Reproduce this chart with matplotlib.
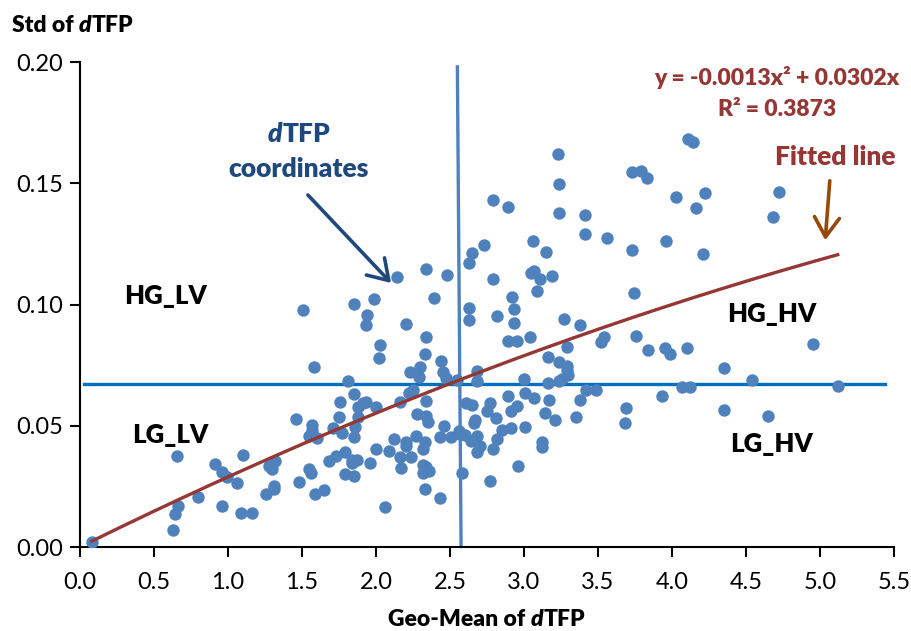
import numpy as np
import matplotlib
matplotlib.use("Agg")
import matplotlib.pyplot as plt

plt.rcParams['font.family'] = ['Lato', 'DejaVu Sans']

# geo-mean of dTFP (x) and std of dTFP (y)
geo_mean = [
    0.08, 0.655, 0.63, 0.64, 0.66, 0.80, 0.91, 0.96, 0.99, 0.96,
    1.06, 1.10, 1.09, 1.16, 1.26, 1.31, 1.31, 1.28, 1.30, 1.32,
    1.46, 1.48, 1.51, 1.58, 1.57, 1.57, 1.55, 1.60, 1.55, 1.56,
    1.59, 1.65, 1.71, 1.68, 1.73, 1.75, 1.76, 1.77, 1.79, 1.79,
    1.81, 1.85, 1.88, 1.91, 1.93, 1.88, 1.86, 1.85, 1.84, 1.87,
    1.84, 1.85, 1.85, 1.94, 1.93, 1.99, 2.03, 2.02, 2.00, 2.00,
    1.96, 2.06, 2.09, 2.12, 2.14, 2.16, 2.16, 2.17, 2.20, 2.20,
    2.20, 2.22, 2.25, 2.23, 2.24, 2.29, 2.30, 2.28, 2.27, 2.33,
    2.34, 2.34, 2.39, 2.34, 2.34, 2.35, 2.33, 2.32, 2.32, 2.34,
    2.36, 2.32, 2.33, 2.43, 2.44, 2.45, 2.47, 2.48, 2.46, 2.43,
    2.51, 2.545, 2.56, 2.58, 2.57, 2.60, 2.64, 2.68, 2.70, 2.68,
    2.66, 2.67, 2.61, 2.65, 2.68, 2.68, 2.63, 2.63, 2.63, 2.65,
    2.73, 2.79, 2.89, 2.79, 2.82, 2.92, 2.93, 2.93, 2.89, 2.95,
    3.04, 2.77, 2.75, 2.81, 2.815, 2.79, 2.77, 2.85, 2.915, 2.89,
    2.95, 2.91, 2.96, 3.00, 3.01, 3.01, 3.07, 3.14, 3.12, 3.12,
    3.17, 3.16, 3.16, 3.24, 3.29, 3.29, 3.30, 3.26, 3.24, 3.21,
    3.35, 3.38, 3.42, 3.49, 3.29, 3.27, 3.38, 3.09, 3.05, 3.07,
    3.11, 3.19, 3.06, 3.15, 3.23, 3.24, 3.24, 3.41, 3.41, 3.56,
    3.52, 3.54, 3.68, 3.69, 3.73, 3.745, 3.73, 3.79, 3.83, 3.76,
    3.84, 3.93, 3.95, 3.99, 3.96, 4.03, 4.10, 4.07, 4.12, 4.11,
    4.14, 4.16, 4.22, 4.21, 4.35, 4.35, 4.54, 4.65, 4.68, 4.72,
    4.955, 5.12,
]
std_dev = [
    0.0022, 0.0375, 0.0070, 0.0135, 0.0170, 0.0205, 0.0341, 0.0308, 0.0290, 0.0169,
    0.0263, 0.0378, 0.0139, 0.0139, 0.0217, 0.0252, 0.0238, 0.0335, 0.0320, 0.0355,
    0.0527, 0.0269, 0.0977, 0.0741, 0.0503, 0.0482, 0.0458, 0.0448, 0.0320, 0.0306,
    0.0217, 0.0235, 0.0490, 0.0355, 0.0375, 0.0535, 0.0599, 0.0469, 0.0393, 0.0301,
    0.0685, 0.0630, 0.0579, 0.0593, 0.0600, 0.0537, 0.0495, 0.0452, 0.0359, 0.0359,
    0.0345, 0.0294, 0.1002, 0.0957, 0.0915, 0.1021, 0.0833, 0.0781, 0.0579, 0.0404,
    0.0345, 0.0165, 0.0397, 0.0444, 0.1115, 0.0599, 0.0371, 0.0327, 0.0434, 0.0416,
    0.0918, 0.0634, 0.0647, 0.0720, 0.0373, 0.0702, 0.0744, 0.0547, 0.0458, 0.0795,
    0.0868, 0.1145, 0.1026, 0.0603, 0.0542, 0.0515, 0.0434, 0.0403, 0.0338, 0.0329,
    0.0315, 0.0304, 0.0238, 0.0201, 0.0767, 0.0720, 0.0697, 0.1120, 0.0501, 0.0455,
    0.0455, 0.0690, 0.0480, 0.0304, 0.0465, 0.0462, 0.0439, 0.0458, 0.0416, 0.0393,
    0.0513, 0.0524, 0.0595, 0.0584, 0.0724, 0.0683, 0.0984, 0.0935, 0.1170, 0.1211,
    0.1244, 0.1430, 0.1403, 0.1105, 0.0953, 0.1030, 0.0981, 0.0922, 0.0848, 0.0850,
    0.0865, 0.0594, 0.0562, 0.0531, 0.0445, 0.0403, 0.0273, 0.0482, 0.0489, 0.0621,
    0.0582, 0.0561, 0.0334, 0.0692, 0.0637, 0.0496, 0.0613, 0.0551, 0.0434, 0.0414,
    0.0606, 0.0678, 0.0782, 0.0764, 0.0746, 0.0730, 0.0709, 0.0692, 0.0686, 0.0525,
    0.0537, 0.0606, 0.0649, 0.0646, 0.0823, 0.0940, 0.0917, 0.1057, 0.1129, 0.1140,
    0.1104, 0.1118, 0.1262, 0.1218, 0.1621, 0.1497, 0.1376, 0.1370, 0.1290, 0.1273,
    0.0847, 0.0867, 0.0513, 0.0572, 0.1226, 0.1046, 0.1548, 0.1552, 0.1520, 0.0870,
    0.0812, 0.0624, 0.0819, 0.0796, 0.1261, 0.1445, 0.0819, 0.0659, 0.0659, 0.1681,
    0.1671, 0.1397, 0.1461, 0.1208, 0.0737, 0.0565, 0.0689, 0.0540, 0.1361, 0.1465,
    0.0837, 0.0664,
]

# quadratic trendline through origin
coef_a, coef_b = -0.0013, 0.0302
r_squared = 0.3873

# quadrant split lines
std_cut = 0.0672
mean_cut_top, mean_cut_bottom = 2.55, 2.575

x_ticks = np.arange(0, 5.51, 0.5)
y_ticks = np.arange(0, 0.201, 0.05)

dot_blue = '#4F81BD'
line_blue = '#0070C0'
fit_red = '#953735'
navy = '#1F497D'
brown = '#984807'
heavy = 'heavy'

fig = plt.figure(figsize=(9.11, 6.31), dpi=100)
ax = fig.add_axes([0.0878, 0.1331, 0.8935, 0.7686])

ax.plot([mean_cut_top, mean_cut_bottom], [0.198, 0.0], color=dot_blue, lw=2.4, zorder=2)
ax.plot([0.03, 5.44], [std_cut, std_cut], color=line_blue, lw=2.4, zorder=2)
ax.scatter(geo_mean, std_dev, s=80, color=dot_blue, linewidths=0, zorder=3)

xf = np.linspace(min(geo_mean), max(geo_mean), 200)
ax.plot(xf, coef_a * xf**2 + coef_b * xf, color=fit_red, lw=2.4, zorder=4)

ax.set_xlim(0, 5.5)
ax.set_ylim(0, 0.2)
ax.set_xticks(x_ticks)
ax.set_yticks(y_ticks)
ax.set_xticklabels([f'{v:.1f}' for v in x_ticks])
ax.set_yticklabels([f'{v:.2f}' for v in y_ticks])
ax.tick_params(direction='out', length=7, width=1.5, labelsize=17, pad=5)
ax.tick_params(axis='x', pad=11)
ax.spines['top'].set_visible(False)
ax.spines['right'].set_visible(False)
for s in ['left', 'bottom']:
    ax.spines[s].set_linewidth(1.5)


def rich_text(parts, x, y, trans, ha_first='left', **kw):
    # chain text pieces one after the other
    t = fig.text(x, y, parts[0][0], transform=trans, ha=ha_first, va='baseline',
                 style=parts[0][1], **kw)
    out = [t]
    for txt, st in parts[1:]:
        t = ax.annotate(txt, xy=(1, 0), xycoords=t, ha='left', va='bottom',
                        style=st, annotation_clip=False, **kw)
        out.append(t)
    return out


rich_text([('Std of ', 'normal'), ('d', 'italic'), ('TFP', 'normal')],
          12 / 911, 1 - 32 / 631, fig.transFigure, fontsize=16.5, fontweight=heavy)
rich_text([('Geo-Mean of ', 'normal'), ('d', 'italic'), ('TFP', 'normal')],
          388 / 911, 1 - 626 / 631, fig.transFigure, fontsize=16.5, fontweight=heavy)

rich_text([('d', 'italic'), ('TFP', 'normal')],
          268 / 911, 1 - 142 / 631, fig.transFigure, fontsize=19,
          fontweight=heavy, color=navy)
fig.text(299 / 911, 1 - 177 / 631, 'coordinates', ha='center', va='baseline',
         fontsize=19, fontweight=heavy, color=navy)

for label, (lx, ly) in {'HG_LV': (165, 304), 'LG_LV': (170, 443),
                        'HG_HV': (772, 322), 'LG_HV': (771, 452)}.items():
    fig.text(lx / 911, 1 - ly / 631, label, ha='center', va='baseline',
             fontsize=18.5, fontweight=heavy, color='black')

fig.text(777 / 911, 1 - 85 / 631, f'y = {coef_a:.4f}x\u00b2 + {coef_b:.4f}x',
         ha='center', va='baseline', fontsize=16.5, fontweight=heavy, color=fit_red)
fig.text(777 / 911, 1 - 116 / 631, f'R\u00b2 = {r_squared:.4f}',
         ha='center', va='baseline', fontsize=16.5, fontweight=heavy, color=fit_red)
fig.text(835 / 911, 1 - 165 / 631, 'Fitted line', ha='center', va='baseline',
         fontsize=19, fontweight=heavy, color=fit_red)

fig.patches.append(matplotlib.patches.FancyArrowPatch(
    (830 / 911, 1 - 178 / 631), (825 / 911, 1 - 243 / 631),
    transform=fig.transFigure, arrowstyle='->,head_length=7,head_width=4.5',
    color=brown, lw=2.6, mutation_scale=2))
fig.patches.append(matplotlib.patches.FancyArrowPatch(
    (306 / 911, 1 - 193 / 631), (393 / 911, 1 - 285 / 631),
    transform=fig.transFigure, arrowstyle='->,head_length=7,head_width=4.5',
    color=navy, lw=2.6, mutation_scale=2))

fig.savefig('out.png', dpi=100)
